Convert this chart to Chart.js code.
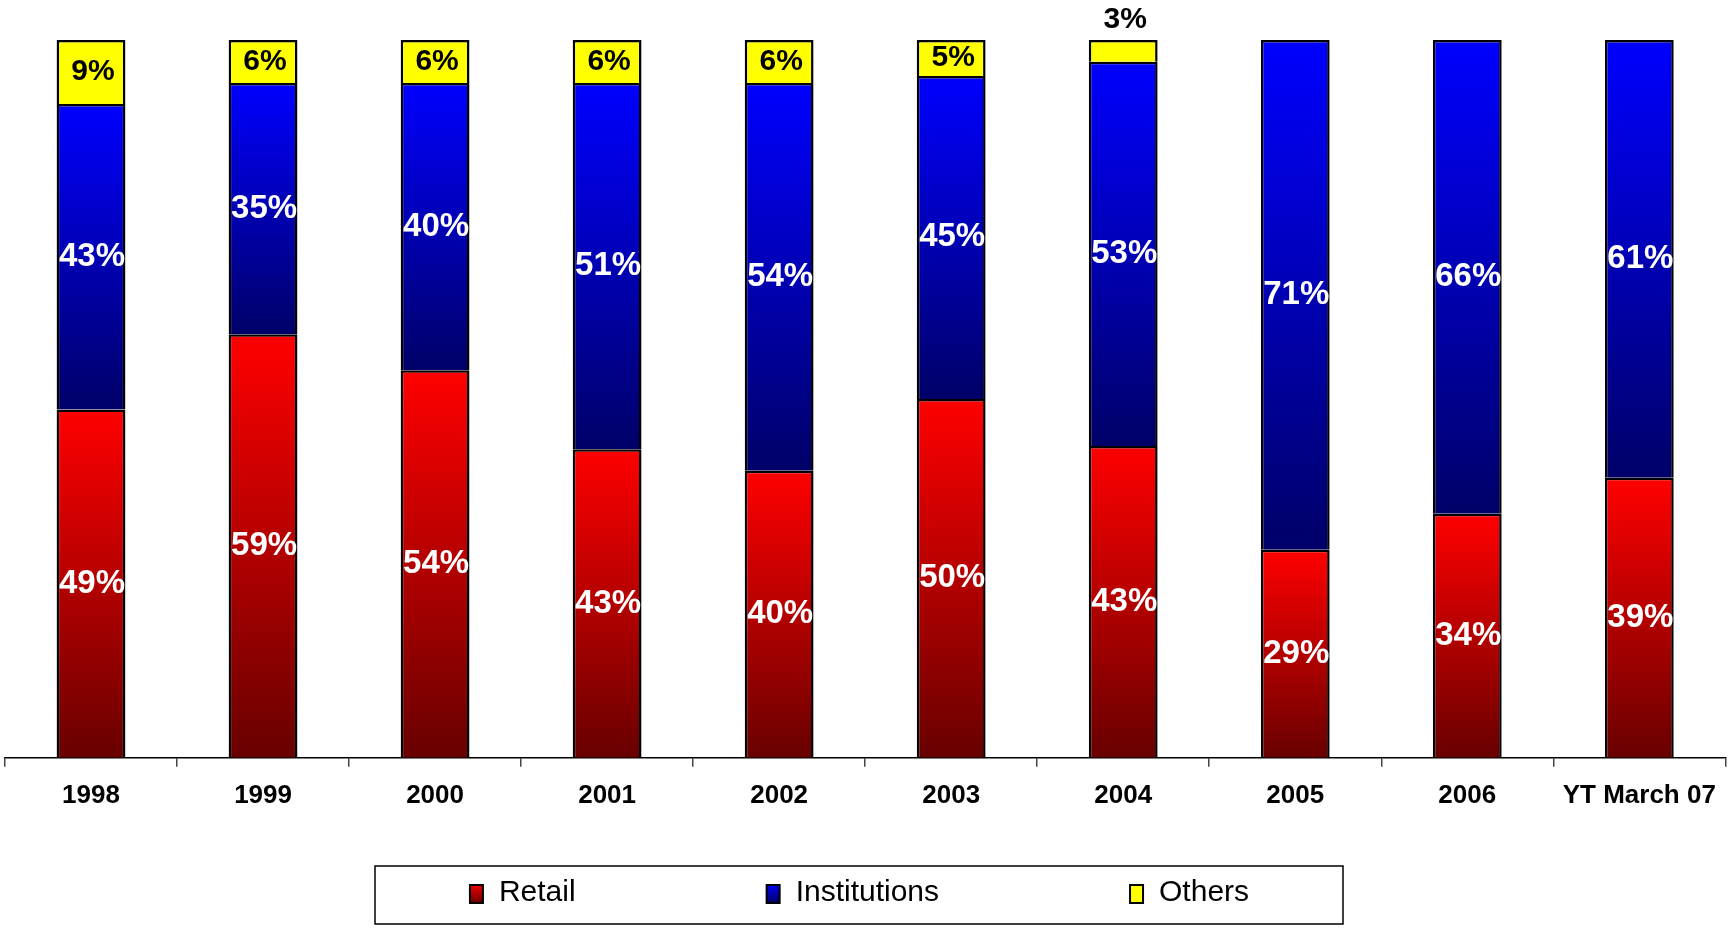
<!DOCTYPE html>
<html>
<head>
<meta charset="utf-8">
<script src="https://cdn.jsdelivr.net/npm/chart.js@4.4.1/dist/chart.umd.min.js"></script>
<style>
  body { margin: 0; background: #fff; }
  canvas { display: block; }
</style>
</head>
<body>
<canvas id="shareChart" width="1729" height="928"></canvas>
<script>
const years = ['1998', '1999', '2000', '2001', '2002', '2003', '2004', '2005', '2006', 'YT March 07'];
const retail = [49, 59, 54, 43, 40, 50, 43, 29, 34, 39];
const institutions = [43, 35, 40, 51, 54, 45, 53, 71, 66, 61];
const others = [9, 6, 6, 6, 6, 5, 3, 0, 0, 0];

const FONT = '"Liberation Sans", Arial, Helvetica, sans-serif';

// each bar is shown as a share of its own total (100% stacked)
function toShare(values) {
    return values.map((v, i) => v * 100 / (retail[i] + institutions[i] + others[i]));
}

// vertical gradient running over the height of each segment
function segmentFill(light, dark) {
    return function (ctx) {
        const chart = ctx.chart;
        if (!chart.chartArea || ctx.type !== 'data') {
            return light;
        }
        const y = chart.scales.y;
        const i = ctx.dataIndex;
        let start = 0;
        for (let k = 0; k < ctx.datasetIndex; k++) {
            start += chart.data.datasets[k].data[i];
        }
        const end = start + chart.data.datasets[ctx.datasetIndex].data[i];
        const g = chart.ctx.createLinearGradient(0, y.getPixelForValue(end), 0, y.getPixelForValue(start));
        g.addColorStop(0, light);
        g.addColorStop(1, dark);
        return g;
    };
}

const seriesColors = [
    ['#ff0000', '#680000'],
    ['#0000ff', '#000068'],
    ['#ffff00', '#ffff00']
];

// percentage written on every segment
const valueLabels = {
    id: 'valueLabels',
    afterDatasetsDraw(chart) {
        const ctx = chart.ctx;
        ctx.save();
        ctx.textAlign = 'center';
        ctx.textBaseline = 'middle';
        chart.data.datasets.forEach((ds, d) => {
            const meta = chart.getDatasetMeta(d);
            meta.data.forEach((bar, i) => {
                const v = ds.raw[i];
                if (!v) return;
                const h = bar.base - bar.y;
                if (d === 2) {
                    ctx.fillStyle = '#000';
                    ctx.font = 'bold 30px ' + FONT;
                    const y = h < 32 ? bar.y - 20 : bar.y + h / 2;
                    ctx.fillText(v + '%', bar.x + 2, y);
                } else {
                    ctx.fillStyle = '#fff';
                    ctx.font = 'bold 33px ' + FONT;
                    ctx.fillText(v + '%', bar.x + 1, bar.y + h / 2);
                }
            });
        });
        ctx.restore();
    }
};

// framed legend row under the axis
const framedLegend = {
    id: 'framedLegend',
    afterDraw(chart) {
        const ctx = chart.ctx;
        const sets = chart.data.datasets;
        const mark = 15, gap = 15, spacing = 190;
        ctx.save();
        ctx.font = '30px ' + FONT;
        const widths = sets.map(ds => ctx.measureText(ds.label).width);
        let total = 0;
        widths.forEach((w, i) => { total += mark + gap + w + (i ? spacing : 0); });
        const cx = 859, cy = 893;
        ctx.strokeStyle = '#000';
        ctx.lineWidth = 1.5;
        ctx.strokeRect(375, 866, 968, 58);
        let x = cx - total / 2;
        sets.forEach((ds, i) => {
            const c = seriesColors[i];
            const g = ctx.createLinearGradient(0, cy - 10, 0, cy + 10);
            g.addColorStop(0, c[0]);
            g.addColorStop(1, c[1]);
            ctx.fillStyle = '#000';
            ctx.fillRect(x, cy - 9, mark, 20);
            ctx.fillStyle = g;
            ctx.fillRect(x + 2, cy - 7, mark - 4, 16);
            ctx.fillStyle = '#000';
            ctx.textAlign = 'left';
            ctx.textBaseline = 'middle';
            ctx.fillText(ds.label, x + mark + gap, cy);
            x += mark + gap + widths[i] + spacing;
        });
        ctx.restore();
    }
};

const seriesNames = ['Retail', 'Institutions', 'Others'];
const seriesValues = [retail, institutions, others];

const datasets = seriesValues.map((vals, k) => ({
    label: seriesNames[k],
    data: toShare(vals),
    raw: vals,
    backgroundColor: segmentFill(seriesColors[k][0], seriesColors[k][1]),
    borderColor: '#000',
    borderWidth: 2.5,
    barPercentage: 0.4,
    categoryPercentage: 1
}));

new Chart(document.getElementById('shareChart'), {
    type: 'bar',
    data: { labels: years, datasets: datasets },
    options: {
        responsive: false,
        animation: false,
        layout: { padding: { top: 40, left: 5, right: 2, bottom: 104 } },
        plugins: {
            legend: { display: false },
            tooltip: { enabled: false }
        },
        scales: {
            x: {
                stacked: true,
                grid: {
                    display: true,
                    offset: true,
                    drawOnChartArea: false,
                    tickLength: 9,
                    color: '#444',
                    lineWidth: 1.5
                },
                border: { display: true, color: '#000', width: 1.5 },
                ticks: {
                    color: '#000',
                    padding: 13,
                    font: { family: FONT, size: 26, weight: 'bold' }
                }
            },
            y: {
                stacked: true,
                display: false,
                min: 0,
                max: 100
            }
        }
    },
    plugins: [valueLabels, framedLegend]
});
</script>
</body>
</html>
